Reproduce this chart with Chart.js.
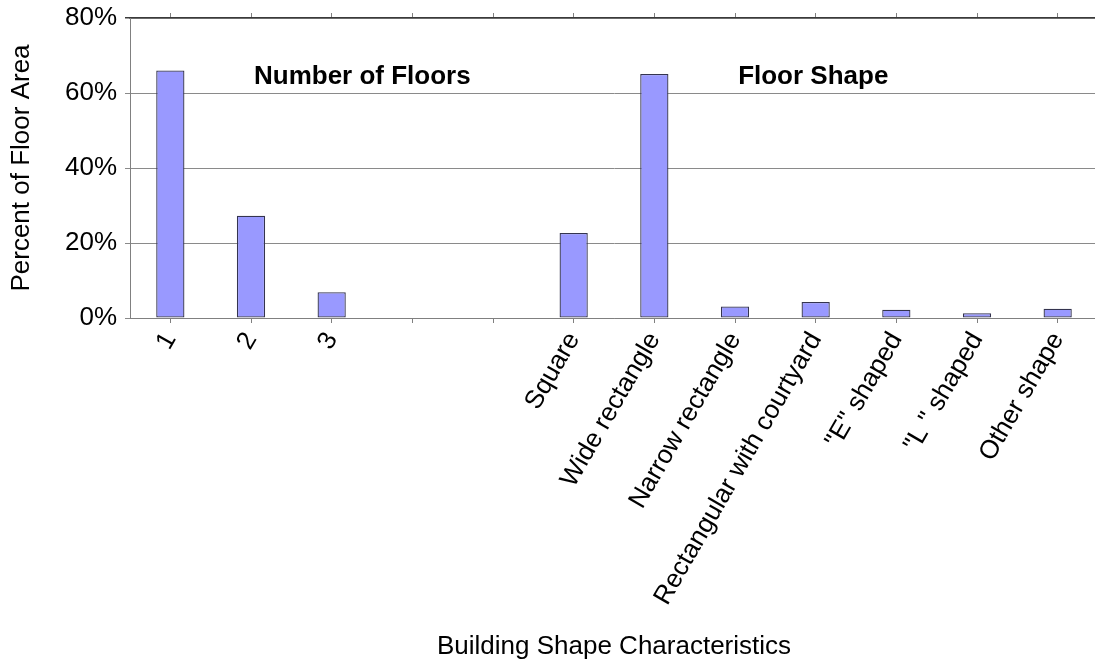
<!DOCTYPE html>
<html>
<head>
<meta charset="utf-8">
<script src="https://cdn.jsdelivr.net/npm/chart.js@4/dist/chart.umd.min.js"></script>
<style>
html,body{margin:0;padding:0;background:#fff;overflow:hidden;}
#wrap{width:1098px;height:662px;position:relative;}
</style>
</head>
<body>
<div id="wrap"><canvas id="c"></canvas></div>
<script>
const categories = ['1', '2', '3', '', '', 'Square', 'Wide rectangle', 'Narrow rectangle', 'Rectangular with courtyard', '"E" shaped', '"L " shaped', 'Other shape'];
const percentFloorArea = [66.0, 27.3, 6.9, null, null, 22.7, 65.1, 3.1, 4.3, 2.2, 1.3, 2.5];
const yTicks = [0, 20, 40, 60, 80];
const groupTitles = ['Number of Floors', 'Floor Shape'];
const groupTitlePos = [2.38, 7.97];
const groupTitleValue = 64.3;

const FONT = '"Liberation Sans", Arial, sans-serif';

const groupLabelPlugin = {
  id: 'groupLabels',
  afterDatasetsDraw(chart) {
    const {ctx, scales: {x, y}} = chart;
    ctx.save();
    ctx.font = 'bold 26px ' + FONT;
    ctx.fillStyle = '#000';
    ctx.textAlign = 'center';
    ctx.textBaseline = 'middle';
    groupTitles.forEach((t, i) => {
      ctx.fillText(t, x.getPixelForValue(groupTitlePos[i]), y.getPixelForValue(groupTitleValue));
    });
    ctx.restore();
  }
};

new Chart(document.getElementById('c'), {
  type: 'bar',
  data: {
    labels: categories,
    datasets: [{
      data: percentFloorArea,
      backgroundColor: '#9999FF',
      borderColor: '#34344f',
      borderWidth: 1.3,
      borderSkipped: false,
      barPercentage: 0.35,
      categoryPercentage: 1
    }]
  },
  options: {
    responsive: true,
    maintainAspectRatio: false,
    animation: false,
    layout: {padding: {top: 13, left: 0, right: 0, bottom: 0}},
    plugins: {legend: {display: false}, tooltip: {enabled: false}},
    scales: {
      x: {
        position: 'bottom',
        offset: true,
        grid: {drawOnChartArea: false, offset: false, tickLength: 5, color: '#808080'},
        border: {color: '#808080', width: 1},
        ticks: {
          autoSkip: false, minRotation: 60, maxRotation: 60, padding: 4,
          color: '#000', font: {family: FONT, size: 26}
        },
        title: {display: true, text: 'Building Shape Characteristics', color: '#000',
          font: {family: FONT, size: 26}, padding: {top: 0, bottom: 0}},
        afterFit(s) { s.height = 344; }
      },
      x2: {
        type: 'category',
        position: 'top',
        offset: true,
        grid: {drawOnChartArea: false, offset: false, tickLength: 5, color: '#808080'},
        border: {color: '#3a3a3a', width: 1.5},
        ticks: {display: false, autoSkip: false, padding: 0},
        afterFit(s) { s.height = 5; }
      },
      y: {
        min: 0, max: 80,
        afterBuildTicks(s) { s.ticks = yTicks.map(v => ({value: v})); },
        grid: {
          color: (c) => c.tick && c.tick.value === 80 ? '#3a3a3a' : '#8a8a8a',
          lineWidth: (c) => c.tick && c.tick.value === 80 ? 1.5 : 1,
          tickLength: 5
        },
        border: {color: '#808080', width: 1},
        ticks: {
          padding: 8, color: '#000', font: {family: FONT, size: 26, lineHeight: 0.7},
          callback: (v) => v + '%'
        },
        title: {display: true, text: 'Percent of Floor Area', color: '#000',
          font: {family: FONT, size: 26}, padding: {top: 6, bottom: 0}},
        afterFit(s) { s.width = 130; }
      }
    }
  },
  plugins: [groupLabelPlugin]
});
</script>
</body>
</html>
